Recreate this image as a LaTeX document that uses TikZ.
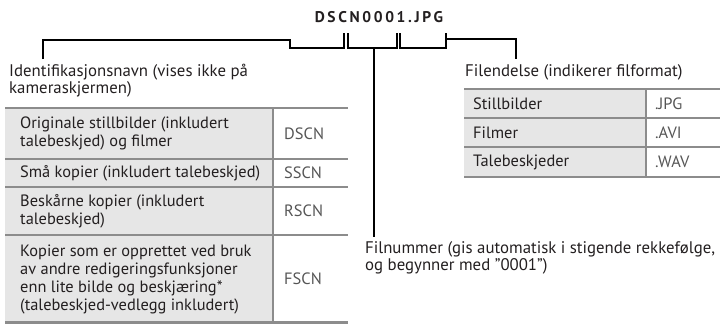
\documentclass[tikz,border=0pt]{standalone}
\usepackage{fontspec}
\setmainfont{PT Sans}
\newfontfamily\titlefont[LetterSpace=17]{PT Sans}
\definecolor{tablegray}{HTML}{8C8C8C}
\definecolor{cellfill}{HTML}{E6E6E6}
\definecolor{codegray}{HTML}{555555}
\definecolor{inkblack}{HTML}{231F20}
\newcommand\cellfont{\fontsize{16.4}{18}\selectfont}
\newcommand\labelfont{\fontsize{16.8}{17.8}\selectfont}
\newcommand\toplines[2]{\vtop{\hbox{#1}\hbox{#2}}}
\newcommand\sq{\char34\relax}
\tikzset{
  bracket/.style={line width=2.3pt, draw=black},
  gridline/.style={line width=2.6pt, draw=tablegray},
  cellfillbox/.style={fill=cellfill, draw=none},
  celltxt/.style={anchor=west, inner sep=0pt, align=left, font=\cellfont, text=inkblack},
  codetxt/.style={anchor=west, inner sep=0pt, font=\cellfont, text=codegray},
  lbl/.style={anchor=base west, inner sep=0pt, font=\labelfont, text=inkblack}
}
\begin{document}
\begin{tikzpicture}[x=1pt,y=-1pt]
\useasboundingbox (0,0) rectangle (720,324);

% title
\node[anchor=base, inner sep=0pt, font=\titlefont\bfseries\fontsize{15.5}{17}\selectfont, text=inkblack] (title) at (379,23) {DSCN0001.JPG};

% labels
\node[lbl] (idlbl) at (9,76) {\toplines{Identifikasjonsnavn (vises ikke på}{kameraskjermen)}};
\node[lbl] (extlbl) at (465,76) {Filendelse (indikerer filformat)};
\node[lbl] (numlbl) at (365,253) {\toplines{Filnummer (gis automatisk i stigende rekkefølge,}{og begynner med \sq 0001\sq)}};

% bracket coordinates
\coordinate (idstem) at (43,59);
\coordinate (numstem) at (374,237);
\coordinate (extstem) at (516,59);

% brackets
\draw[bracket] (idstem) -- (43,40) -- (290,40) -- (290,48) -- (344,48) -- (344,33);
\draw[bracket] (348,33) -- (348,48) -- (397,48) -- (397,33);
\draw[bracket] (374,48) -- (numstem);
\draw[bracket] (400,33) -- (400,48) -- (446,48) -- (446,33);
\draw[bracket] (446,39) -- (516,39) -- (extstem);

% left table
\fill[cellfillbox] (5,108) rectangle (273,323);
\draw[gridline] (5,108) -- (348,108);
\draw[gridline] (5,159) -- (348,159);
\draw[gridline] (5,187) -- (348,187);
\draw[gridline] (5,235) -- (348,235);
\draw[gridline] (5,322.7) -- (348,322.7);
\draw[gridline] (273,108) -- (273,324);

\node[celltxt] (t1) at (20,133.5) {Originale stillbilder (inkludert\\talebeskjed) og filmer};
\node[codetxt] (k1) at (284,133.5) {DSCN};
\node[celltxt] (t2) at (20,173) {Små kopier (inkludert talebeskjed)};
\node[codetxt] (k2) at (284,173) {SSCN};
\node[celltxt] (t3) at (20,211) {Beskårne kopier (inkludert\\talebeskjed)};
\node[codetxt] (k3) at (284,211) {RSCN};
\node[celltxt] (t4) at (20,279) {Kopier som er opprettet ved bruk\\av andre redigeringsfunksjoner\\enn lite bilde og beskjæring*\\(talebeskjed-vedlegg inkludert)};
\node[codetxt] (k4) at (284,279) {FSCN};

% right table
\fill[cellfillbox] (464,89) rectangle (646,177);
\draw[gridline] (464,89) -- (720,89);
\draw[gridline] (464,118) -- (720,118);
\draw[gridline] (464,147) -- (720,147);
\draw[gridline] (464,177) -- (720,177);
\draw[gridline] (646,89) -- (646,177);

\node[celltxt] (e1) at (473,103.5) {Stillbilder};
\node[codetxt] (x1) at (655,103.5) {.JPG};
\node[celltxt] (e2) at (473,132.5) {Filmer};
\node[codetxt] (x2) at (655,132.5) {.AVI};
\node[celltxt] (e3) at (473,162) {Talebeskjeder};
\node[codetxt] (x3) at (655,162) {.WAV};
\end{tikzpicture}
\end{document}
